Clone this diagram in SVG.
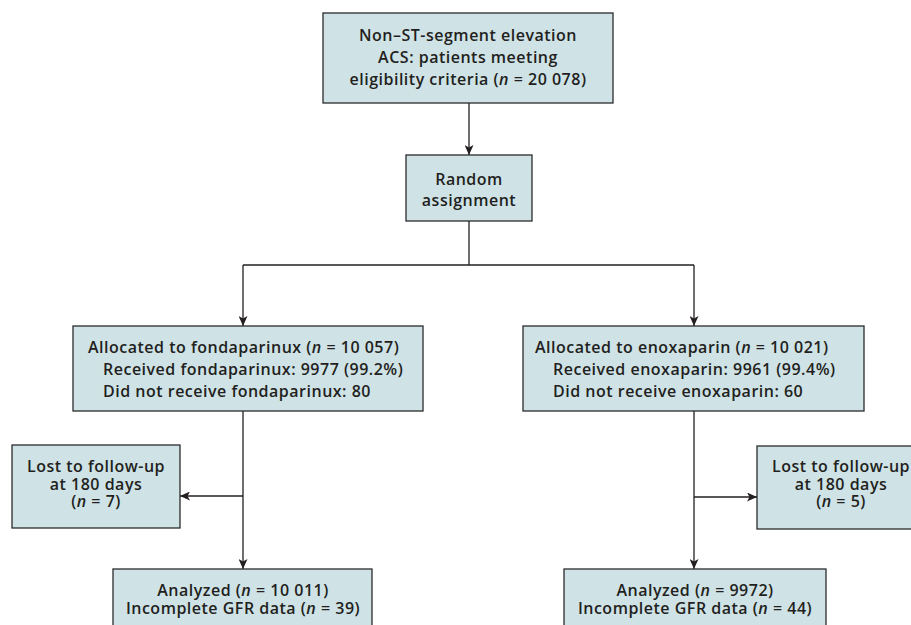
<svg xmlns="http://www.w3.org/2000/svg" width="911" height="625" viewBox="0 0 911 625">
<style>
.box{fill:#cfe3e7;stroke:#2b2b2b;stroke-width:1.3}
.t{font-family:"Open Sans","Liberation Sans",sans-serif;font-weight:600;fill:#231f20;font-size:16px;letter-spacing:0.5px}
.c{text-anchor:middle}
.i{font-style:italic}
.ln{fill:none;stroke:#231f20;stroke-width:1.3}
</style>
<defs>
<marker id="ah" viewBox="0 0 10 10" refX="10" refY="5" markerWidth="10" markerHeight="9" markerUnits="userSpaceOnUse" orient="auto" preserveAspectRatio="none">
<path d="M0,0 L10,5 L0,10 L2.5,5 Z" fill="#231f20"/>
</marker>
</defs>
<rect width="911" height="625" fill="#ffffff"/>
<g id="connectors">
<line class="ln" x1="469" y1="103" x2="469" y2="155" marker-end="url(#ah)"/>
<polyline class="ln" points="469,221 469,265"/>
<polyline class="ln" points="243,265 694,265"/>
<line class="ln" x1="243" y1="265" x2="243" y2="326" marker-end="url(#ah)"/>
<line class="ln" x1="694" y1="265" x2="694" y2="326" marker-end="url(#ah)"/>
<line class="ln" x1="243" y1="411" x2="243" y2="569" marker-end="url(#ah)"/>
<line class="ln" x1="243" y1="496" x2="180" y2="496" marker-end="url(#ah)"/>
<line class="ln" x1="694" y1="411" x2="694" y2="569" marker-end="url(#ah)"/>
<line class="ln" x1="694" y1="497" x2="757" y2="497" marker-end="url(#ah)"/>
</g>
<g id="eligible">
<rect class="box" x="323" y="13" width="290" height="90"/>
<text class="t c" x="468" y="41">Non–ST-segment elevation</text>
<text class="t c" x="468" y="63">ACS: patients meeting</text>
<text class="t c" x="468" y="85">eligibility criteria (<tspan class="i">n</tspan> = 20 078)</text>
</g>
<g id="random">
<rect class="box" x="406" y="155" width="126" height="66"/>
<text class="t c" x="469" y="185">Random</text>
<text class="t c" x="469" y="206">assignment</text>
</g>
<g id="fonda">
<rect class="box" x="73" y="326" width="350" height="85"/>
<text class="t" x="88" y="353">Allocated to fondaparinux (<tspan class="i">n</tspan> = 10 057)</text>
<text class="t" x="103" y="375">Received fondaparinux: 9977 (99.2%)</text>
<text class="t" x="103" y="397">Did not receive fondaparinux: 80</text>
</g>
<g id="enox">
<rect class="box" x="523" y="326" width="341" height="85"/>
<text class="t" x="535" y="353">Allocated to enoxaparin (<tspan class="i">n</tspan> = 10 021)</text>
<text class="t" x="553" y="375">Received enoxaparin: 9961 (99.4%)</text>
<text class="t" x="553" y="397">Did not receive enoxaparin: 60</text>
</g>
<g id="lost-left">
<rect class="box" x="12" y="445" width="168" height="83"/>
<text class="t c" x="96" y="472">Lost to follow-up</text>
<text class="t c" x="96" y="489.5">at 180 days</text>
<text class="t c" x="96" y="507">(<tspan class="i">n</tspan> = 7)</text>
</g>
<g id="lost-right">
<rect class="box" x="757" y="446" width="170" height="83"/>
<text class="t c" x="841" y="472">Lost to follow-up</text>
<text class="t c" x="841" y="489.5">at 180 days</text>
<text class="t c" x="841" y="507">(<tspan class="i">n</tspan> = 5)</text>
</g>
<g id="analyzed-left">
<rect class="box" x="113" y="569" width="259" height="70"/>
<text class="t c" x="243" y="596">Analyzed (<tspan class="i">n</tspan> = 10 011)</text>
<text class="t c" x="243" y="614">Incomplete GFR data  (<tspan class="i">n</tspan> = 39)</text>
</g>
<g id="analyzed-right">
<rect class="box" x="564" y="569" width="262" height="70"/>
<text class="t c" x="695" y="596">Analyzed (<tspan class="i">n</tspan> = 9972)</text>
<text class="t c" x="695" y="614">Incomplete GFR data  (<tspan class="i">n</tspan> = 44)</text>
</g>
</svg>
